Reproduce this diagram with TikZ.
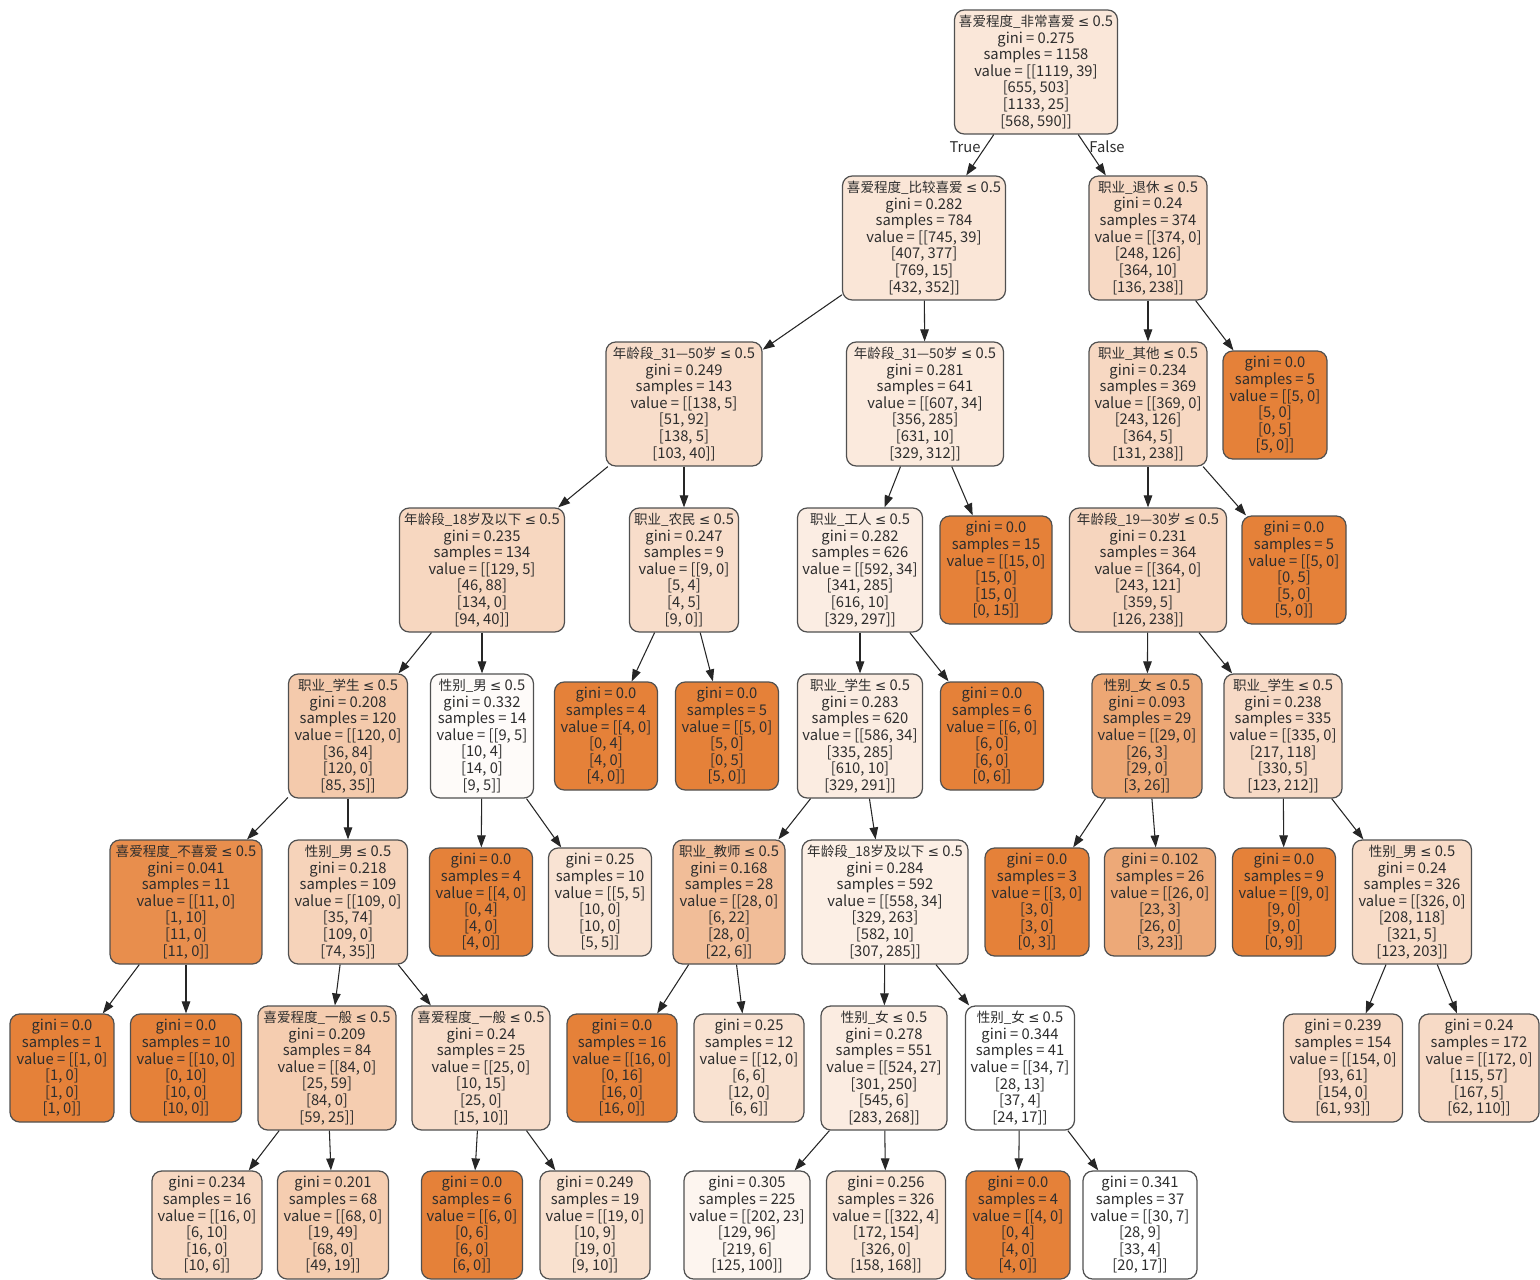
\documentclass[tikz,border=0pt]{standalone}
\usepackage{fontspec}
\usetikzlibrary{arrows.meta}
\newfontfamily\treefont{Noto Sans CJK SC}
\newfontfamily\symfont{DejaVu Sans}
\definecolor{gorange}{HTML}{E58139}
\definecolor{boxline}{HTML}{505050}
\definecolor{inktext}{HTML}{2E2E2E}
\definecolor{edgeink}{HTML}{262626}

% split condition: feature name, then "<= 0.5"
\newcommand{\cond}[1]{{\fontsize{7.7}{9.47}\selectfont #1} {\symfont\fontsize{7.6}{9.47}\selectfont ≤} 0.5}

\tikzset{
  split/.style={draw=boxline, line width=0.7pt, rounded corners=5.5pt, align=center,
    text=inktext, font=\treefont\fontsize{8.4}{9.47}\selectfont,
    inner xsep=1pt, inner ysep=0pt, minimum height=2.48cm},
  leaf/.style={split, minimum height=2.16cm},
  edge/.style={edgeink, line width=0.6pt, -{Triangle[length=2.4mm, width=1.7mm]}},
  edgelbl/.style={text=inktext, font=\treefont\fontsize{8.4}{9.47}\selectfont}
}

\begin{document}
\begin{tikzpicture}[x=0.02cm, y=-0.02cm]

% Background
\fill[white] (0,0) rectangle (1540,1279);
\useasboundingbox (0,0) rectangle (1540,1279);

% ============================================================
% Depth 0 and 1
% ============================================================
\node[split, fill=gorange!19, minimum width=3.26cm] (n0) at (1036,72)
  {\cond{喜爱程度\_非常喜爱}\\gini = 0.275\\samples = 1158\\value = [[1119, 39]\\{}[655, 503]\\{}[1133, 25]\\{}[568, 590]]};

\node[split, fill=gorange!20, minimum width=3.26cm] (n1) at (924,238)
  {\cond{喜爱程度\_比较喜爱}\\gini = 0.282\\samples = 784\\value = [[745, 39]\\{}[407, 377]\\{}[769, 15]\\{}[432, 352]]};
\node[split, fill=gorange!30, minimum width=2.36cm] (n2) at (1148,238)
  {\cond{职业\_退休}\\gini = 0.24\\samples = 374\\value = [[374, 0]\\{}[248, 126]\\{}[364, 10]\\{}[136, 238]]};

% ============================================================
% Depth 2
% ============================================================
\node[split, fill=gorange!27, minimum width=3.12cm] (n3) at (684,404)
  {\cond{年龄段\_31—50岁}\\gini = 0.249\\samples = 143\\value = [[138, 5]\\{}[51, 92]\\{}[138, 5]\\{}[103, 40]]};
\node[split, fill=gorange!17, minimum width=3.14cm] (n4) at (925,404)
  {\cond{年龄段\_31—50岁}\\gini = 0.281\\samples = 641\\value = [[607, 34]\\{}[356, 285]\\{}[631, 10]\\{}[329, 312]]};
\node[split, fill=gorange!31, minimum width=2.36cm] (n5) at (1148,404)
  {\cond{职业\_其他}\\gini = 0.234\\samples = 369\\value = [[369, 0]\\{}[243, 126]\\{}[364, 5]\\{}[131, 238]]};
\node[leaf, fill=gorange, minimum width=2.08cm] (n6) at (1275,405)
  {gini = 0.0\\samples = 5\\value = [[5, 0]\\{}[5, 0]\\{}[0, 5]\\{}[5, 0]]};

% ============================================================
% Depth 3
% ============================================================
\node[split, fill=gorange!32, minimum width=3.30cm] (n7) at (482,570)
  {\cond{年龄段\_18岁及以下}\\gini = 0.235\\samples = 134\\value = [[129, 5]\\{}[46, 88]\\{}[134, 0]\\{}[94, 40]]};
\node[split, fill=gorange!27, minimum width=2.18cm] (n8) at (684,570)
  {\cond{职业\_农民}\\gini = 0.247\\samples = 9\\value = [[9, 0]\\{}[5, 4]\\{}[4, 5]\\{}[9, 0]]};
\node[split, fill=gorange!14, minimum width=2.50cm] (n9) at (860,570)
  {\cond{职业\_工人}\\gini = 0.282\\samples = 626\\value = [[592, 34]\\{}[341, 285]\\{}[616, 10]\\{}[329, 297]]};
\node[leaf, fill=gorange, minimum width=2.24cm] (n10) at (996,570)
  {gini = 0.0\\samples = 15\\value = [[15, 0]\\{}[15, 0]\\{}[15, 0]\\{}[0, 15]]};
\node[split, fill=gorange!33, minimum width=3.14cm] (n11) at (1148,570)
  {\cond{年龄段\_19—30岁}\\gini = 0.231\\samples = 364\\value = [[364, 0]\\{}[243, 121]\\{}[359, 5]\\{}[126, 238]]};
\node[leaf, fill=gorange, minimum width=2.08cm] (n12) at (1294,570)
  {gini = 0.0\\samples = 5\\value = [[5, 0]\\{}[0, 5]\\{}[5, 0]\\{}[5, 0]]};

% ============================================================
% Depth 4
% ============================================================
\node[split, fill=gorange!42, minimum width=2.38cm] (n13) at (348,736)
  {\cond{职业\_学生}\\gini = 0.208\\samples = 120\\value = [[120, 0]\\{}[36, 84]\\{}[120, 0]\\{}[85, 35]]};
\node[split, fill=gorange!3, minimum width=2.06cm] (n14) at (482,736)
  {\cond{性别\_男}\\gini = 0.332\\samples = 14\\value = [[9, 5]\\{}[10, 4]\\{}[14, 0]\\{}[9, 5]]};
\node[leaf, fill=gorange, minimum width=2.06cm] (n15) at (606,736)
  {gini = 0.0\\samples = 4\\value = [[4, 0]\\{}[0, 4]\\{}[4, 0]\\{}[4, 0]]};
\node[leaf, fill=gorange, minimum width=2.06cm] (n16) at (727,736)
  {gini = 0.0\\samples = 5\\value = [[5, 0]\\{}[5, 0]\\{}[0, 5]\\{}[5, 0]]};
\node[split, fill=gorange!15, minimum width=2.50cm] (n17) at (860,736)
  {\cond{职业\_学生}\\gini = 0.283\\samples = 620\\value = [[586, 34]\\{}[335, 285]\\{}[610, 10]\\{}[329, 291]]};
\node[leaf, fill=gorange, minimum width=2.06cm] (n18) at (992,736)
  {gini = 0.0\\samples = 6\\value = [[6, 0]\\{}[6, 0]\\{}[6, 0]\\{}[0, 6]]};
\node[split, fill=gorange!70, minimum width=2.20cm] (n19) at (1147,736)
  {\cond{性别\_女}\\gini = 0.093\\samples = 29\\value = [[29, 0]\\{}[26, 3]\\{}[29, 0]\\{}[3, 26]]};
\node[split, fill=gorange!29, minimum width=2.36cm] (n20) at (1283,736)
  {\cond{职业\_学生}\\gini = 0.238\\samples = 335\\value = [[335, 0]\\{}[217, 118]\\{}[330, 5]\\{}[123, 212]]};

% ============================================================
% Depth 5
% ============================================================
\node[split, fill=gorange!90, minimum width=3.04cm] (n21) at (186,902)
  {\cond{喜爱程度\_不喜爱}\\gini = 0.041\\samples = 11\\value = [[11, 0]\\{}[1, 10]\\{}[11, 0]\\{}[11, 0]]};
\node[split, fill=gorange!35, minimum width=2.38cm] (n22) at (348,902)
  {\cond{性别\_男}\\gini = 0.218\\samples = 109\\value = [[109, 0]\\{}[35, 74]\\{}[109, 0]\\{}[74, 35]]};
\node[leaf, fill=gorange, minimum width=2.06cm] (n23) at (481,902)
  {gini = 0.0\\samples = 4\\value = [[4, 0]\\{}[0, 4]\\{}[4, 0]\\{}[4, 0]]};
\node[leaf, fill=gorange!22, minimum width=2.06cm] (n24) at (600,902)
  {gini = 0.25\\samples = 10\\value = [[5, 5]\\{}[10, 0]\\{}[10, 0]\\{}[5, 5]]};
\node[split, fill=gorange!52, minimum width=2.24cm] (n25) at (729,902)
  {\cond{职业\_教师}\\gini = 0.168\\samples = 28\\value = [[28, 0]\\{}[6, 22]\\{}[28, 0]\\{}[22, 6]]};
\node[split, fill=gorange!13, minimum width=3.32cm] (n26) at (885,902)
  {\cond{年龄段\_18岁及以下}\\gini = 0.284\\samples = 592\\value = [[558, 34]\\{}[329, 263]\\{}[582, 10]\\{}[307, 285]]};
\node[leaf, fill=gorange, minimum width=2.08cm] (n27) at (1037,902)
  {gini = 0.0\\samples = 3\\value = [[3, 0]\\{}[3, 0]\\{}[3, 0]\\{}[0, 3]]};
\node[leaf, fill=gorange!68, minimum width=2.22cm] (n28) at (1160,902)
  {gini = 0.102\\samples = 26\\value = [[26, 0]\\{}[23, 3]\\{}[26, 0]\\{}[3, 23]]};
\node[leaf, fill=gorange, minimum width=2.06cm] (n29) at (1284,902)
  {gini = 0.0\\samples = 9\\value = [[9, 0]\\{}[9, 0]\\{}[9, 0]\\{}[0, 9]]};
\node[split, fill=gorange!28, minimum width=2.38cm] (n30) at (1412,902)
  {\cond{性别\_男}\\gini = 0.24\\samples = 326\\value = [[326, 0]\\{}[208, 118]\\{}[321, 5]\\{}[123, 203]]};

% ============================================================
% Depth 6
% ============================================================
\node[leaf, fill=gorange, minimum width=2.08cm] (n31) at (62,1068)
  {gini = 0.0\\samples = 1\\value = [[1, 0]\\{}[1, 0]\\{}[1, 0]\\{}[1, 0]]};
\node[leaf, fill=gorange, minimum width=2.22cm] (n32) at (186,1068)
  {gini = 0.0\\samples = 10\\value = [[10, 0]\\{}[0, 10]\\{}[10, 0]\\{}[10, 0]]};
\node[split, fill=gorange!40, minimum width=2.76cm] (n33) at (327,1068)
  {\cond{喜爱程度\_一般}\\gini = 0.209\\samples = 84\\value = [[84, 0]\\{}[25, 59]\\{}[84, 0]\\{}[59, 25]]};
\node[split, fill=gorange!27, minimum width=2.76cm] (n34) at (481,1068)
  {\cond{喜爱程度\_一般}\\gini = 0.24\\samples = 25\\value = [[25, 0]\\{}[10, 15]\\{}[25, 0]\\{}[15, 10]]};
\node[leaf, fill=gorange, minimum width=2.20cm] (n35) at (622,1068)
  {gini = 0.0\\samples = 16\\value = [[16, 0]\\{}[0, 16]\\{}[16, 0]\\{}[16, 0]]};
\node[leaf, fill=gorange!23, minimum width=2.20cm] (n36) at (749,1068)
  {gini = 0.25\\samples = 12\\value = [[12, 0]\\{}[6, 6]\\{}[12, 0]\\{}[6, 6]]};
\node[split, fill=gorange!15, minimum width=2.52cm] (n37) at (884,1068)
  {\cond{性别\_女}\\gini = 0.278\\samples = 551\\value = [[524, 27]\\{}[301, 250]\\{}[545, 6]\\{}[283, 268]]};
\node[split, fill=white, minimum width=2.18cm] (n38) at (1020,1068)
  {\cond{性别\_女}\\gini = 0.344\\samples = 41\\value = [[34, 7]\\{}[28, 13]\\{}[37, 4]\\{}[24, 17]]};
\node[leaf, fill=gorange!30, minimum width=2.38cm] (n39) at (1343,1068)
  {gini = 0.239\\samples = 154\\value = [[154, 0]\\{}[93, 61]\\{}[154, 0]\\{}[61, 93]]};
\node[leaf, fill=gorange!29, minimum width=2.40cm] (n40) at (1479,1068)
  {gini = 0.24\\samples = 172\\value = [[172, 0]\\{}[115, 57]\\{}[167, 5]\\{}[62, 110]]};

% ============================================================
% Depth 7
% ============================================================
\node[leaf, fill=gorange!31, minimum width=2.20cm] (n41) at (207,1225)
  {gini = 0.234\\samples = 16\\value = [[16, 0]\\{}[6, 10]\\{}[16, 0]\\{}[10, 6]]};
\node[leaf, fill=gorange!40, minimum width=2.22cm] (n42) at (333,1225)
  {gini = 0.201\\samples = 68\\value = [[68, 0]\\{}[19, 49]\\{}[68, 0]\\{}[49, 19]]};
\node[leaf, fill=gorange, minimum width=2.02cm] (n43) at (472,1225)
  {gini = 0.0\\samples = 6\\value = [[6, 0]\\{}[0, 6]\\{}[6, 0]\\{}[6, 0]]};
\node[leaf, fill=gorange!24, minimum width=2.20cm] (n44) at (595,1225)
  {gini = 0.249\\samples = 19\\value = [[19, 0]\\{}[10, 9]\\{}[19, 0]\\{}[9, 10]]};
\node[leaf, fill=gorange!8, minimum width=2.52cm] (n45) at (747,1225)
  {gini = 0.305\\samples = 225\\value = [[202, 23]\\{}[129, 96]\\{}[219, 6]\\{}[125, 100]]};
\node[leaf, fill=gorange!21, minimum width=2.38cm] (n46) at (886,1225)
  {gini = 0.256\\samples = 326\\value = [[322, 4]\\{}[172, 154]\\{}[326, 0]\\{}[158, 168]]};
\node[leaf, fill=gorange, minimum width=2.08cm] (n47) at (1018,1225)
  {gini = 0.0\\samples = 4\\value = [[4, 0]\\{}[0, 4]\\{}[4, 0]\\{}[4, 0]]};
\node[leaf, fill=white, minimum width=2.28cm] (n48) at (1140,1225)
  {gini = 0.341\\samples = 37\\value = [[30, 7]\\{}[28, 9]\\{}[33, 4]\\{}[20, 17]]};

% ============================================================
% Edges
% ============================================================
\draw[edge] (n0) -- (n1);
\draw[edge] (n0) -- (n2);
\node[edgelbl] (lbltrue) at (965,147) {True};
\node[edgelbl] (lblfalse) at (1107,147) {False};

\draw[edge] (n1) -- (n3);
\draw[edge] (n1) -- (n4);
\draw[edge] (n2) -- (n5);
\draw[edge] (n2) -- (n6);

\draw[edge] (n3) -- (n7);
\draw[edge] (n3) -- (n8);
\draw[edge] (n4) -- (n9);
\draw[edge] (n4) -- (n10);
\draw[edge] (n5) -- (n11);
\draw[edge] (n5) -- (n12);

\draw[edge] (n7) -- (n13);
\draw[edge] (n7) -- (n14);
\draw[edge] (n8) -- (n15);
\draw[edge] (n8) -- (n16);
\draw[edge] (n9) -- (n17);
\draw[edge] (n9) -- (n18);
\draw[edge] (n11) -- (n19);
\draw[edge] (n11) -- (n20);

\draw[edge] (n13) -- (n21);
\draw[edge] (n13) -- (n22);
\draw[edge] (n14) -- (n23);
\draw[edge] (n14) -- (n24);
\draw[edge] (n17) -- (n25);
\draw[edge] (n17) -- (n26);
\draw[edge] (n19) -- (n27);
\draw[edge] (n19) -- (n28);
\draw[edge] (n20) -- (n29);
\draw[edge] (n20) -- (n30);

\draw[edge] (n21) -- (n31);
\draw[edge] (n21) -- (n32);
\draw[edge] (n22) -- (n33);
\draw[edge] (n22) -- (n34);
\draw[edge] (n25) -- (n35);
\draw[edge] (n25) -- (n36);
\draw[edge] (n26) -- (n37);
\draw[edge] (n26) -- (n38);
\draw[edge] (n30) -- (n39);
\draw[edge] (n30) -- (n40);

\draw[edge] (n33) -- (n41);
\draw[edge] (n33) -- (n42);
\draw[edge] (n34) -- (n43);
\draw[edge] (n34) -- (n44);
\draw[edge] (n37) -- (n45);
\draw[edge] (n37) -- (n46);
\draw[edge] (n38) -- (n47);
\draw[edge] (n38) -- (n48);

\end{tikzpicture}
\end{document}
